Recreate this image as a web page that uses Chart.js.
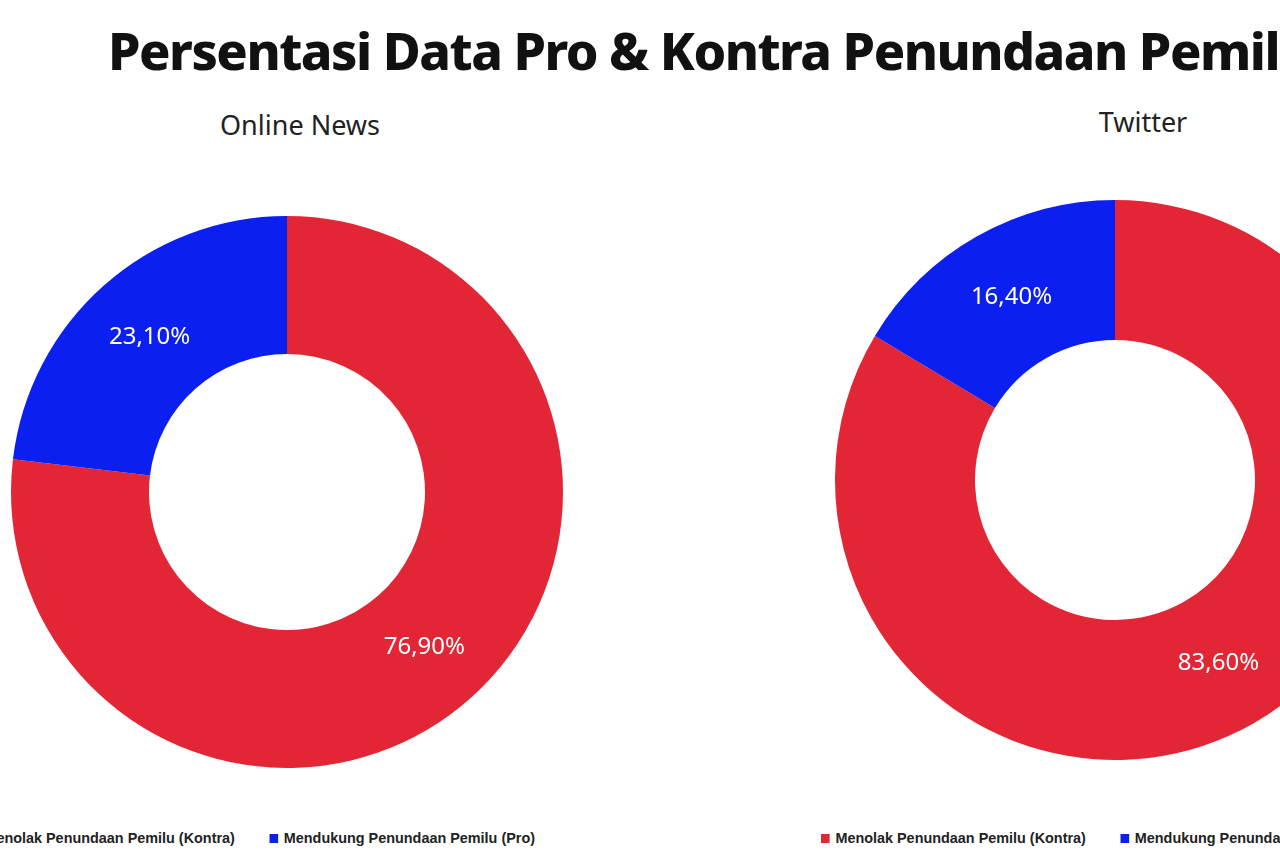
<!DOCTYPE html>
<html>
<head>
<meta charset="utf-8">
<script src="https://cdn.jsdelivr.net/npm/chart.js@4"></script>
<style>
  body { margin: 0; width: 1280px; height: 853px; overflow: hidden; background: #fff; position: relative; font-family: "Noto Sans", sans-serif; }
  .abs { position: absolute; white-space: nowrap; }
  #title { left: 108px; top: 14px; font-size: 52px; font-weight: 800; color: #111; letter-spacing: -1.5px; }
  .sub { font-size: 27px; color: #222; transform: translateX(-50%); }
  .legend { font-family: "Liberation Sans Narrow", "Liberation Sans", sans-serif; font-weight: bold; font-size: 15px; color: #222; top: 829px; transform: scaleX(0.96); transform-origin: left; }
  .sq { display: inline-block; width: 9px; height: 9px; margin-right: 6px; }
  .item { margin-right: 36px; }
</style>
</head>
<body>
<div id="title" class="abs">Persentasi Data Pro &amp; Kontra Penundaan Pemilu</div>
<div class="abs sub" style="left:300px;top:106px">Online News</div>
<div class="abs sub" style="left:1143px;top:103px">Twitter</div>
<canvas id="c1" class="abs" style="left:-13px;top:192px"></canvas>
<canvas id="c2" class="abs" style="left:815px;top:180px"></canvas>
<div id="leg1" class="abs legend" style="left:-30px"></div>
<div id="leg2" class="abs legend" style="left:821px"></div>
<script>
const categories = ['Menolak Penundaan Pemilu (Kontra)', 'Mendukung Penundaan Pemilu (Pro)'];
const onlineNews = [76.9, 23.1];
const twitter = [83.6, 16.4];
const colors = ['#e32636', '#0a1ff0'];

const labelPlugin = {
  id: 'arcLabels',
  afterDatasetsDraw(chart) {
    const ctx = chart.ctx;
    const meta = chart.getDatasetMeta(0);
    ctx.save();
    ctx.fillStyle = '#fff';
    ctx.font = '24px "Noto Sans"';
    ctx.textAlign = 'center';
    ctx.textBaseline = 'middle';
    meta.data.forEach((arc, i) => {
      const p = arc.tooltipPosition();
      const v = chart.data.datasets[0].data[i];
      ctx.fillText(v.toFixed(2).replace('.', ',') + '%', p.x, p.y);
    });
    ctx.restore();
  }
};

function makeChart(id, values, radius) {
  const el = document.getElementById(id);
  el.width = 600; el.height = 600;
  el.style.width = '600px'; el.style.height = '600px';
  new Chart(el, {
    type: 'doughnut',
    data: { labels: categories, datasets: [{ data: values, backgroundColor: colors, borderWidth: 0 }] },
    options: {
      responsive: false,
      animation: false,
      radius: radius,
      cutout: '50%',
      plugins: { legend: { display: false }, tooltip: { enabled: false } }
    },
    plugins: [labelPlugin]
  });
}

makeChart('c1', onlineNews, 276);
makeChart('c2', twitter, 280);

['leg1', 'leg2'].forEach(id => {
  document.getElementById(id).innerHTML = categories.map((c, i) =>
    '<span class="item"><span class="sq" style="background:' + colors[i] + '"></span>' + c + '</span>').join('');
});
</script>
</body>
</html>
